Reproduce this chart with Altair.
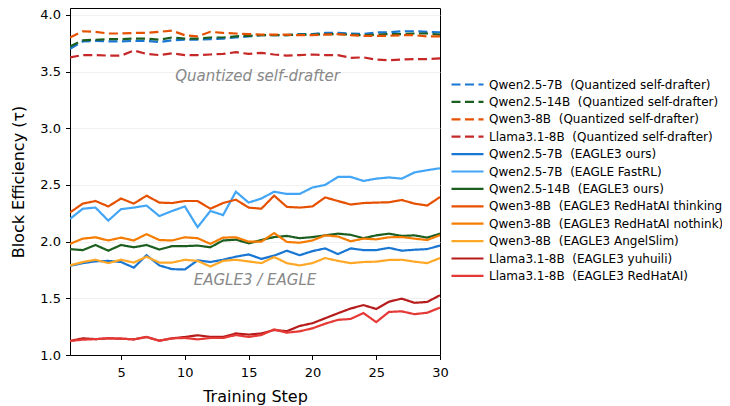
import altair as alt
import pandas as pd

steps = list(range(1, 31))

series_names = [
    "Qwen2.5-7B\u00a0 (Quantized self-drafter)",
    "Qwen2.5-14B\u00a0 (Quantized self-drafter)",
    "Qwen3-8B\u00a0 (Quantized self-drafter)",
    "Llama3.1-8B\u00a0 (Quantized self-drafter)",
    "Qwen2.5-7B\u00a0 (EAGLE3 ours)",
    "Qwen2.5-7B\u00a0 (EAGLE FastRL)",
    "Qwen2.5-14B\u00a0 (EAGLE3 ours)",
    "Qwen3-8B\u00a0 (EAGLE3 RedHatAI thinking)",
    "Qwen3-8B\u00a0 (EAGLE3 RedHatAI nothink)",
    "Qwen3-8B\u00a0 (EAGLE3 AngelSlim)",
    "Llama3.1-8B\u00a0 (EAGLE3 yuhuili)",
    "Llama3.1-8B\u00a0 (EAGLE3 RedHatAI)",
]
series_colors = [
    "#1976d2", "#1b5e20", "#e65100", "#c62828",
    "#1976d2", "#42a5f5", "#1b5e20", "#e65100",
    "#f57c00", "#ffa726", "#b71c1c", "#e53935",
]
dashed = [True, True, True, True, False, False, False, False, False, False, False, False]

q7_quant = [3.70, 3.765, 3.77, 3.765, 3.765, 3.77, 3.77, 3.76, 3.775, 3.78, 3.78, 3.785, 3.79, 3.80, 3.81,
            3.82, 3.82, 3.82, 3.83, 3.83, 3.84, 3.84, 3.835, 3.83, 3.845, 3.845, 3.855, 3.855, 3.85, 3.845]
q14_quant = [3.72, 3.775, 3.78, 3.785, 3.785, 3.79, 3.79, 3.78, 3.80, 3.79, 3.79, 3.80, 3.80, 3.81, 3.815,
             3.82, 3.82, 3.82, 3.825, 3.825, 3.83, 3.83, 3.825, 3.82, 3.825, 3.83, 3.83, 3.835, 3.835, 3.825]
q3_quant = [3.80, 3.855, 3.85, 3.835, 3.835, 3.84, 3.84, 3.85, 3.86, 3.82, 3.81, 3.85, 3.84, 3.835, 3.83,
            3.825, 3.825, 3.825, 3.82, 3.82, 3.825, 3.83, 3.82, 3.815, 3.815, 3.815, 3.82, 3.82, 3.81, 3.81]
llama_quant = [3.625, 3.645, 3.645, 3.64, 3.64, 3.685, 3.655, 3.645, 3.66, 3.645, 3.645, 3.65, 3.655, 3.67, 3.655,
               3.665, 3.65, 3.64, 3.645, 3.65, 3.645, 3.645, 3.62, 3.625, 3.605, 3.60, 3.605, 3.61, 3.61, 3.615]
q7_eagle = [1.786, 1.81, 1.826, 1.83, 1.82, 1.77, 1.88, 1.79, 1.757, 1.754, 1.835, 1.82, 1.84, 1.867, 1.887,
            1.847, 1.876, 1.92, 1.88, 1.916, 1.94, 1.89, 1.94, 1.925, 1.925, 1.945, 1.92, 1.928, 1.934, 1.965]
q7_fastrl = [2.20, 2.29, 2.30, 2.185, 2.286, 2.30, 2.318, 2.225, 2.27, 2.31, 2.127, 2.27, 2.234, 2.44, 2.344,
             2.38, 2.44, 2.42, 2.42, 2.477, 2.50, 2.57, 2.57, 2.535, 2.555, 2.566, 2.555, 2.61, 2.63, 2.647]
q14_eagle = [1.934, 1.925, 1.97, 1.92, 1.97, 1.95, 1.97, 1.93, 1.96, 1.96, 1.965, 1.95, 2.01, 2.017, 1.985,
             2.014, 2.04, 2.05, 2.03, 2.04, 2.055, 2.07, 2.06, 2.03, 2.055, 2.07, 2.05, 2.055, 2.035, 2.07]
q3_thinking = [2.257, 2.335, 2.358, 2.31, 2.38, 2.335, 2.405, 2.344, 2.34, 2.358, 2.358, 2.29, 2.34, 2.37, 2.30,
               2.29, 2.405, 2.306, 2.30, 2.31, 2.39, 2.358, 2.327, 2.34, 2.344, 2.347, 2.367, 2.335, 2.318, 2.393]
q3_nothink = [1.98, 2.026, 2.038, 2.01, 2.035, 2.01, 2.066, 2.014, 2.01, 2.038, 2.03, 1.98, 2.035, 2.038, 2.0,
              2.0, 2.075, 1.997, 1.99, 2.01, 2.055, 2.045, 2.003, 2.026, 2.02, 2.038, 2.04, 2.026, 2.014, 2.057]
q3_angelslim = [1.79, 1.82, 1.84, 1.81, 1.84, 1.815, 1.867, 1.815, 1.815, 1.84, 1.83, 1.78, 1.83, 1.84, 1.825,
                1.81, 1.864, 1.81, 1.79, 1.81, 1.855, 1.83, 1.81, 1.82, 1.823, 1.838, 1.84, 1.823, 1.81, 1.855]
llama_yuhuili = [1.124, 1.147, 1.14, 1.147, 1.144, 1.138, 1.159, 1.126, 1.147, 1.159, 1.174, 1.16, 1.16, 1.19, 1.18,
                 1.19, 1.22, 1.21, 1.256, 1.28, 1.324, 1.368, 1.41, 1.44, 1.406, 1.47, 1.497, 1.46, 1.468, 1.527]
llama_redhat = [1.124, 1.135, 1.14, 1.147, 1.144, 1.138, 1.159, 1.126, 1.147, 1.15, 1.138, 1.15, 1.15, 1.176, 1.159,
                1.176, 1.226, 1.197, 1.209, 1.235, 1.276, 1.31, 1.318, 1.37, 1.29, 1.38, 1.385, 1.36, 1.373, 1.418]

all_values = [q7_quant, q14_quant, q3_quant, llama_quant, q7_eagle, q7_fastrl, q14_eagle,
              q3_thinking, q3_nothink, q3_angelslim, llama_yuhuili, llama_redhat]

x_ticks = [5, 10, 15, 20, 25, 30]
y_ticks = [1.0, 1.5, 2.0, 2.5, 3.0, 3.5, 4.0]

ann_text = ["Quantized self-drafter", "EAGLE3 / EAGLE"]
ann_x = [15.7, 15.5]
ann_y = [3.46, 1.66]

rows = []
for name, vals in zip(series_names, all_values):
    for s, v in zip(steps, vals):
        rows.append({"step": s, "value": v, "series": name})
df = pd.DataFrame(rows)
ann_df = pd.DataFrame({"x": ann_x, "y": ann_y, "text": ann_text})

dash_range = [[9, 4.5] if d else [1, 0] for d in dashed]

FONT = "DejaVu Sans"

x_enc = alt.X("step:Q", scale=alt.Scale(domain=[1, 30], nice=False, zero=False),
              axis=alt.Axis(values=x_ticks, title="Training Step", grid=False, labelFlush=False))
y_enc = alt.Y("value:Q", scale=alt.Scale(domain=[1.0, 4.06], nice=False, zero=False),
              axis=alt.Axis(values=y_ticks, format=".1f", title="Block Efficiency (τ)", labelFlush=False,
                            grid=True, gridColor="#eeeeee", gridWidth=0.8))

lines = alt.Chart(df).mark_line(strokeWidth=2.2, clip=True).encode(
    x=x_enc,
    y=y_enc,
    color=alt.Color("series:N", scale=alt.Scale(domain=series_names, range=series_colors), title=None),
    strokeDash=alt.StrokeDash("series:N", scale=alt.Scale(domain=series_names, range=dash_range), title=None),
)

ann = alt.Chart(ann_df).mark_text(font=FONT, fontSize=15, fontStyle="italic", color="#888888",
                                  align="center", baseline="middle").encode(
    x=alt.X("x:Q"), y=alt.Y("y:Q"), text="text:N")

chart = alt.layer(lines, ann).properties(
    width=370, height=347,
    padding={"left": 62, "top": 0, "right": 282, "bottom": 50},
    autosize=alt.AutoSizeParams(type="none"),
).configure_view(
    stroke="black", strokeWidth=1,
).configure_axis(
    labelFont=FONT, labelFontSize=13, labelColor="black",
    titleFont=FONT, titleFontSize=16, titleFontWeight="normal", titleColor="black",
    domainColor="black", domainWidth=1, tickColor="black", tickSize=4.5, tickWidth=1,
).configure_axisX(
    labelPadding=7, titlePadding=9,
).configure_axisY(
    labelPadding=5, titlePadding=13,
).configure_legend(
    orient="none", legendX=380, legendY=68, padding=0,
    symbolType="stroke", symbolSize=1024, symbolStrokeWidth=2.2,
    labelFont=FONT, labelFontSize=12, labelColor="black", labelLimit=600, labelOffset=4,
    rowPadding=0.4, clipHeight=17,
)

chart.save("out.html", embed_options={"renderer": "svg", "actions": False})
